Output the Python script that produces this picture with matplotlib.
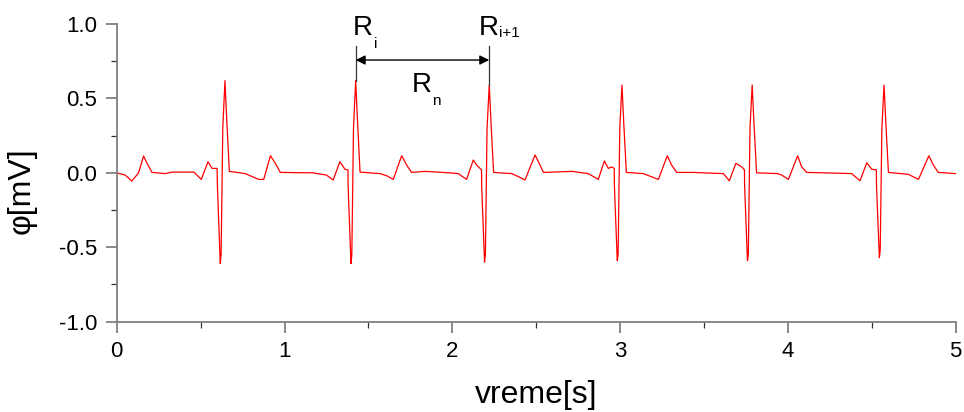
import matplotlib
matplotlib.use("Agg")
import matplotlib.pyplot as plt
from matplotlib.ticker import MultipleLocator

# EKG signal ocitan sa slike: vreme [s] i napon [mV]
vreme = [0.00, 0.05, 0.09, 0.13, 0.16, 0.18, 0.21, 0.29, 0.33, 0.46, 0.504, 0.544, 0.568, 0.598,
         0.600, 0.617, 0.622, 0.632, 0.645, 0.655, 0.671,
         0.766, 0.846, 0.876, 0.916, 0.945, 0.975, 1.17, 1.25, 1.29, 1.33, 1.36, 1.378,
         1.379, 1.396, 1.401, 1.411, 1.424, 1.434, 1.450,
         1.57, 1.61, 1.648, 1.698, 1.728, 1.757, 1.837, 1.986, 2.035, 2.085, 2.125, 2.145, 2.174,
         2.175, 2.192, 2.197, 2.207, 2.220, 2.230, 2.246,
         2.354, 2.393, 2.433, 2.493, 2.513, 2.543, 2.713, 2.81, 2.87, 2.906, 2.93, 2.95, 2.965,
         2.966, 2.983, 2.988, 2.998, 3.011, 3.021, 3.037,
         3.138, 3.228, 3.281, 3.307, 3.337, 3.436, 3.615, 3.651, 3.69, 3.725, 3.741,
         3.742, 3.759, 3.764, 3.774, 3.787, 3.797, 3.813,
         3.94, 3.963, 4.003, 4.058, 4.082, 4.112, 4.38, 4.43, 4.47, 4.50, 4.527,
         4.528, 4.545, 4.550, 4.560, 4.573, 4.583, 4.599,
         4.718, 4.778, 4.84, 4.867, 4.896, 5.0]
napon = [0.00, -0.015, -0.055, 0.00, 0.113, 0.065, 0.003, -0.005, 0.005, 0.005, -0.044, 0.075, 0.03, 0.03,
         -0.09, -0.61, -0.55, 0.30, 0.62, 0.37, 0.01,
         -0.005, -0.044, -0.044, 0.115, 0.064, 0.003, 0.0, -0.015, -0.048, 0.075, 0.024, 0.02,
         -0.09, -0.61, -0.55, 0.30, 0.62, 0.37, 0.005,
         -0.005, -0.02, -0.044, 0.115, 0.052, 0.003, 0.01, 0.0, -0.005, -0.044, 0.086, 0.052, 0.02,
         -0.09, -0.60, -0.55, 0.30, 0.59, 0.35, 0.003,
         -0.005, -0.025, -0.048, 0.12, 0.075, 0.003, 0.01, -0.005, -0.044, 0.08, 0.03, 0.04, 0.03,
         -0.09, -0.59, -0.55, 0.30, 0.59, 0.35, 0.003,
         -0.005, -0.044, 0.115, 0.052, 0.003, 0.003, -0.005, -0.053, 0.064, 0.04, 0.02,
         -0.09, -0.59, -0.55, 0.30, 0.59, 0.35, 0.0,
         -0.005, -0.015, -0.044, 0.115, 0.04, 0.003, -0.005, -0.053, 0.068, 0.024, 0.02,
         -0.09, -0.57, -0.52, 0.30, 0.59, 0.35, 0.003,
         -0.01, -0.044, 0.115, 0.052, 0.003, -0.005]

# R pikovi izmedju kojih se meri interval
r_i = 1.424
r_i1 = 2.220
r_i_vis = 0.62
r_i1_vis = 0.59

plt.rcParams['font.family'] = ['Liberation Sans', 'DejaVu Sans']

fig = plt.figure(figsize=(9.64, 4.12), dpi=100)
ax = fig.add_axes([0.1211, 0.2192, 0.8703, 0.7225])

ax.plot(vreme, napon, color="#ff0000", linewidth=0.9)

ax.set_xlim(0, 5)
ax.set_ylim(-1.0, 1.0)
ax.xaxis.set_major_locator(MultipleLocator(1))
ax.xaxis.set_minor_locator(MultipleLocator(0.5))
ax.yaxis.set_major_locator(MultipleLocator(0.5))
ax.yaxis.set_minor_locator(MultipleLocator(0.25))
ax.yaxis.set_major_formatter(plt.FuncFormatter(lambda v, p: "%.1f" % v))

for s in ["top", "right"]:
    ax.spines[s].set_visible(False)
for s in ["left", "bottom"]:
    ax.spines[s].set_color("#808080")
    ax.spines[s].set_linewidth(1.3)

ax.tick_params(which="major", direction="out", length=8, width=1.3, color="#808080",
               labelsize=16, pad=6)
ax.tick_params(which="minor", direction="out", length=4, width=0.9, color="#333333")

ax.set_xlabel("vreme[s]", fontsize=23, labelpad=13)
ax.set_ylabel("φ[mV]", fontsize=23)
ax.yaxis.set_label_coords(-0.095, 0.44)

# oznake R_i, R_i+1 i R_n
ax.plot([r_i, r_i], [r_i_vis, 0.85], color="#333333", linewidth=0.9)
ax.plot([r_i1, r_i1], [r_i1_vis, 0.85], color="#333333", linewidth=0.9)
ax.annotate("", xy=(r_i, 0.758), xytext=(r_i1, 0.758),
            arrowprops=dict(arrowstyle="<|-|>", color="black", lw=1.0,
                            shrinkA=0, shrinkB=0, mutation_scale=14))
ax.text(1.409, 0.926, "R", fontsize=20, ha="left", va="baseline")
ax.text(1.535, 0.837, "i", fontsize=11, ha="left", va="baseline")
ax.text(2.155, 0.926, "R", fontsize=20, ha="left", va="baseline")
ax.text(2.28, 0.915, "i+1", fontsize=11, ha="left", va="baseline")
ax.text(1.758, 0.545, "R", fontsize=20, ha="left", va="baseline")
ax.text(1.88, 0.456, "n", fontsize=11, ha="left", va="baseline")

fig.savefig("out.png", dpi=100)
